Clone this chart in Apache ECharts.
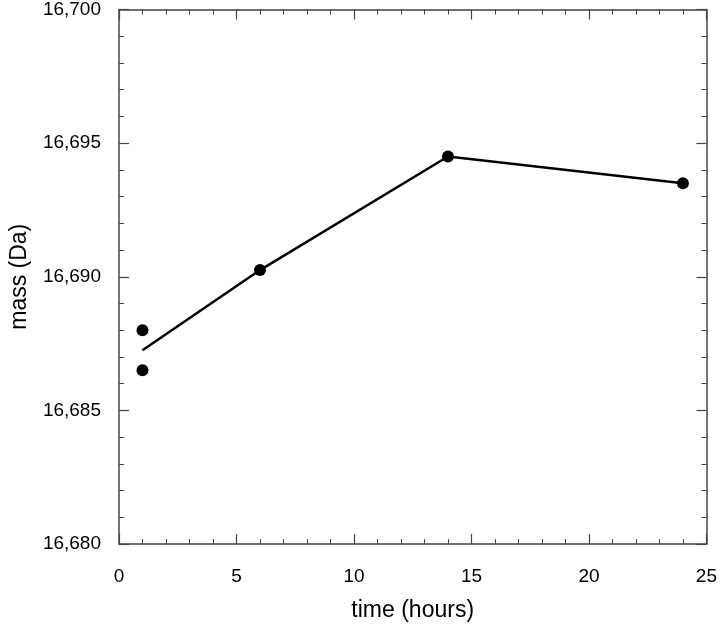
<!DOCTYPE html>
<html>
<head>
<meta charset="utf-8">
<script src="https://cdn.jsdelivr.net/npm/echarts@6/dist/echarts.min.js"></script>
<style>
  html, body { margin: 0; padding: 0; background: #fff; }
  #main { width: 720px; height: 629px; }
</style>
</head>
<body>
<div id="main"></div>
<script>
// fitted line (mean at t=1)
var lineTimes = [1, 6, 14, 24];
var lineMass = [16687.25, 16690.25, 16694.5, 16693.5];
// measured points
var pointTimes = [1, 1, 6, 14, 24];
var pointMass = [16688.0, 16686.5, 16690.25, 16694.5, 16693.5];

var chart = echarts.init(document.getElementById('main'));

function pairs(xs, ys) {
  var out = [];
  for (var i = 0; i < xs.length; i++) out.push([xs[i], ys[i]]);
  return out;
}

function commas(v) {
  return String(v).replace(/\B(?=(\d{3})+(?!\d))/g, ',');
}

var axisColor = '#444';
var font = 'Liberation Sans, Arial, sans-serif';

// shared look for the frame axes
function frameAxis(extra) {
  var base = {
    type: 'value',
    axisLine: { show: true, onZero: false, lineStyle: { color: axisColor, width: 1.5 } },
    axisTick: { show: true, inside: true, length: 10, lineStyle: { color: axisColor, width: 1.2 } },
    minorTick: { show: true, splitNumber: 5, length: 5, lineStyle: { color: axisColor, width: 1 } },
    splitLine: { show: false },
    minorSplitLine: { show: false }
  };
  return Object.assign(base, extra);
}

chart.setOption({
  animation: false,
  grid: { left: 118, right: 12, top: 7, bottom: 85 },
  xAxis: [
    frameAxis({
      position: 'bottom', min: 0, max: 25, interval: 5,
      name: 'time (hours)', nameLocation: 'middle', nameGap: 55,
      nameTextStyle: { fontSize: 23, color: '#000', fontFamily: font },
      axisLabel: { fontSize: 19, color: '#000', fontFamily: font, margin: 23 }
    }),
    frameAxis({
      position: 'top', min: 0, max: 25, interval: 5,
      axisLabel: { show: false }
    })
  ],
  yAxis: [
    frameAxis({
      position: 'left', min: 16680, max: 16700, interval: 5,
      name: 'mass (Da)', nameLocation: 'middle', nameGap: 88,
      nameTextStyle: { fontSize: 23, color: '#000', fontFamily: font },
      axisLabel: { fontSize: 19, color: '#000', fontFamily: font, margin: 18, formatter: commas }
    }),
    frameAxis({
      position: 'right', min: 16680, max: 16700, interval: 5,
      axisLabel: { show: false }
    })
  ],
  series: [
    {
      type: 'line',
      data: pairs(lineTimes, lineMass),
      showSymbol: false,
      lineStyle: { color: '#000', width: 2.5 }
    },
    {
      type: 'scatter',
      data: pairs(pointTimes, pointMass),
      symbolSize: 12,
      itemStyle: { color: '#000', opacity: 1 }
    }
  ]
});
</script>
</body>
</html>
